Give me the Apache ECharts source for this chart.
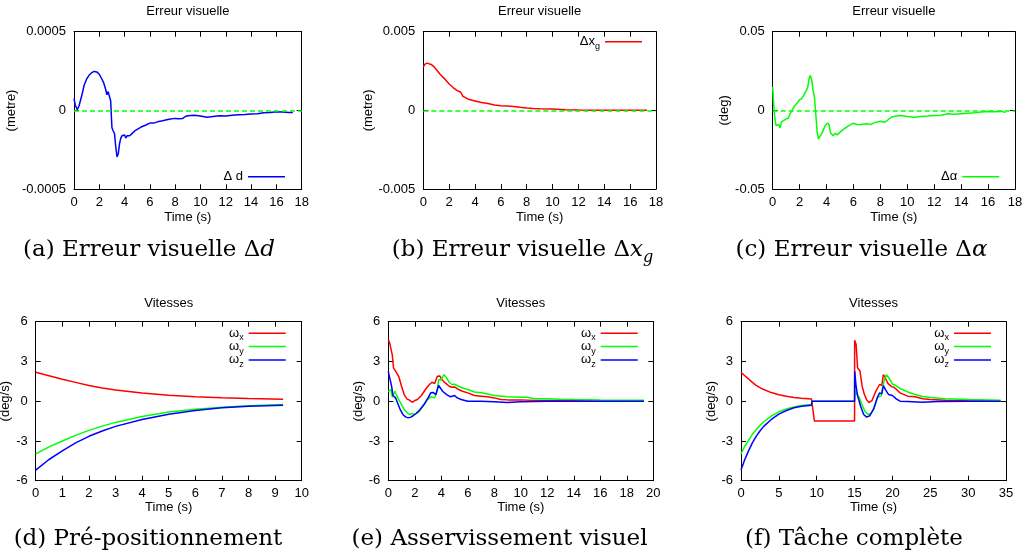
<!DOCTYPE html>
<html><head><meta charset="utf-8">
<script src="https://cdn.jsdelivr.net/npm/echarts@6/dist/echarts.min.js"></script>
<style>html,body{margin:0;padding:0;background:#fff}#c{width:1025px;height:560px}</style>
</head><body><div id="c"></div>
<script>
// ---------- data (time s, value) ----------
const deltaD = [[0,0.75e-4],[0.1,0.35e-4],[0.26,0.05e-4],[0.4,0.3e-4],[0.6,0.9e-4],[0.8,1.6e-4],[1.0,2.0e-4],[1.2,2.25e-4],[1.4,2.4e-4],[1.6,2.48e-4],[1.8,2.45e-4],[2.0,2.3e-4],[2.2,2.0e-4],[2.35,1.75e-4],[2.5,1.35e-4],[2.6,1.0e-4],[2.7,1.2e-4],[2.8,1.15e-4],[2.9,0.6e-4],[2.95,-0.3e-4],[3.0,-1.1e-4],[3.1,-1.3e-4],[3.2,-1.45e-4],[3.3,-2.3e-4],[3.4,-2.95e-4],[3.5,-2.75e-4],[3.6,-2.1e-4],[3.7,-1.75e-4],[3.8,-1.6e-4],[3.9,-1.65e-4],[4.0,-1.55e-4],[4.1,-1.75e-4],[4.2,-1.6e-4],[4.4,-1.6e-4],[4.6,-1.45e-4],[4.8,-1.3e-4],[5.0,-1.2e-4],[5.3,-1.05e-4],[5.6,-0.95e-4],[6.0,-0.8e-4],[6.3,-0.8e-4],[6.6,-0.72e-4],[7.0,-0.65e-4],[7.5,-0.55e-4],[8.0,-0.5e-4],[8.3,-0.52e-4],[8.6,-0.5e-4],[8.8,-0.38e-4],[9.0,-0.33e-4],[9.5,-0.3e-4],[10.0,-0.35e-4],[10.5,-0.43e-4],[11.0,-0.38e-4],[11.5,-0.33e-4],[12.0,-0.35e-4],[12.5,-0.3e-4],[13.0,-0.27e-4],[13.5,-0.25e-4],[14.0,-0.22e-4],[14.5,-0.2e-4],[15.0,-0.15e-4],[15.5,-0.12e-4],[16.0,-0.08e-4],[16.5,-0.1e-4],[17.0,-0.12e-4],[17.3,-0.13e-4]];

const deltaXg = [[0,2.75e-3],[0.1,2.92e-3],[0.3,3.0e-3],[0.6,2.92e-3],[0.8,2.8e-3],[1.0,2.6e-3],[1.3,2.3e-3],[1.6,2.05e-3],[2.0,1.68e-3],[2.3,1.45e-3],[2.6,1.27e-3],[2.9,1.15e-3],[2.95,1.1e-3],[3.05,0.9e-3],[3.2,0.78e-3],[3.5,0.7e-3],[4.0,0.6e-3],[4.5,0.5e-3],[5.0,0.44e-3],[5.5,0.34e-3],[6.0,0.3e-3],[6.5,0.27e-3],[7.0,0.24e-3],[7.5,0.19e-3],[8.0,0.15e-3],[8.5,0.12e-3],[9.0,0.1e-3],[10,0.08e-3],[11,0.04e-3],[12,0.02e-3],[13,0.01e-3],[14,0.01e-3],[15,0.005e-3],[16,0.005e-3],[17.3,0]];

const deltaAlpha = [[0,1.5e-2],[0.05,0.64e-2],[0.15,-0.43e-2],[0.25,-0.96e-2],[0.35,-1.0e-2],[0.45,-0.89e-2],[0.55,-1.1e-2],[0.65,-0.74e-2],[0.8,-0.64e-2],[1.0,-0.53e-2],[1.15,-0.5e-2],[1.3,-0.21e-2],[1.6,0.26e-2],[1.8,0.45e-2],[2.0,0.68e-2],[2.15,0.75e-2],[2.3,0.96e-2],[2.5,1.28e-2],[2.6,1.45e-2],[2.7,2.02e-2],[2.8,2.23e-2],[2.9,1.9e-2],[3.0,1.28e-2],[3.1,0.85e-2],[3.2,-0.21e-2],[3.3,-1.38e-2],[3.4,-1.81e-2],[3.5,-1.7e-2],[3.7,-1.38e-2],[3.9,-0.96e-2],[4.1,-0.8e-2],[4.2,-0.95e-2],[4.3,-1.45e-2],[4.5,-1.6e-2],[4.65,-1.45e-2],[4.8,-1.55e-2],[5.0,-1.38e-2],[5.3,-1.17e-2],[5.6,-1.0e-2],[6.0,-0.81e-2],[6.3,-0.9e-2],[6.5,-0.89e-2],[7.0,-0.85e-2],[7.3,-0.9e-2],[7.5,-0.79e-2],[8.0,-0.68e-2],[8.3,-0.75e-2],[8.5,-0.64e-2],[8.8,-0.43e-2],[9.0,-0.38e-2],[9.5,-0.32e-2],[10.0,-0.38e-2],[10.5,-0.43e-2],[11.0,-0.38e-2],[11.5,-0.36e-2],[12.0,-0.32e-2],[12.5,-0.3e-2],[13.0,-0.21e-2],[13.5,-0.24e-2],[14.0,-0.21e-2],[14.5,-0.18e-2],[15.0,-0.15e-2],[15.5,-0.1e-2],[16.0,-0.06e-2],[16.5,-0.08e-2],[17.0,-0.06e-2],[17.3,-0.13e-2]];

const wxPre = [[0,2.19],[0.5,1.92],[1,1.66],[1.5,1.42],[2,1.18],[2.5,1.0],[3,0.84],[4,0.61],[5,0.45],[6,0.34],[7,0.26],[8,0.2],[9.3,0.15]];
const wyPre = [[0,-3.97],[0.5,-3.45],[1,-3.0],[1.5,-2.58],[2,-2.2],[2.5,-1.88],[3,-1.6],[4,-1.15],[5,-0.82],[6,-0.6],[7,-0.45],[8,-0.34],[9.3,-0.25]];
const wzPre = [[0,-5.2],[0.5,-4.4],[1,-3.75],[1.5,-3.15],[2,-2.65],[2.5,-2.25],[3,-1.9],[4,-1.38],[5,-0.98],[6,-0.7],[7,-0.5],[8,-0.38],[9.3,-0.3]];

const wxServo = [[0,4.65],[0.1,4.4],[0.2,4.45],[0.3,3.5],[0.4,2.5],[0.5,2.45],[0.6,2.2],[0.8,1.83],[1.0,1.13],[1.2,0.5],[1.4,0.18],[1.6,0.08],[1.8,-0.08],[2.0,0.05],[2.2,0.13],[2.5,0.43],[2.8,0.88],[3.1,1.26],[3.3,1.43],[3.5,1.33],[3.6,1.3],[3.7,1.88],[3.8,2.0],[3.9,1.9],[4.0,1.68],[4.3,1.38],[4.6,1.13],[4.8,1.05],[5.0,1.08],[5.3,0.88],[5.6,0.75],[6.0,0.63],[6.5,0.43],[7.0,0.38],[7.5,0.33],[8.0,0.25],[8.5,0.13],[9.0,0.1],[10.0,0.1],[11.0,0.05],[12.0,0.05],[14.0,0.03],[16.0,0.0],[18.0,0.0],[19.3,0.0]];
const wyServo = [[0,0.75],[0.1,0.75],[0.2,0.88],[0.3,0.3],[0.4,0.4],[0.5,0.75],[0.6,0.5],[0.8,0.1],[1.0,-0.25],[1.2,-0.63],[1.4,-0.83],[1.6,-1.0],[1.8,-0.93],[2.0,-1.0],[2.3,-0.83],[2.6,-0.38],[2.9,0.08],[3.2,0.33],[3.5,0.25],[3.7,0.88],[3.8,1.63],[4.0,1.6],[4.1,1.83],[4.2,2.0],[4.4,1.76],[4.6,1.43],[4.8,1.26],[5.0,1.28],[5.3,1.13],[5.6,1.0],[6.0,0.88],[6.5,0.7],[7.0,0.63],[7.5,0.55],[8.0,0.43],[9.0,0.33],[10.0,0.3],[10.5,0.3],[11.0,0.18],[12.0,0.18],[13.0,0.15],[14.0,0.13],[16.0,0.1],[19.3,0.08]];
const wzServo = [[0,2.26],[0.05,2.0],[0.15,2.0],[0.25,1.13],[0.35,0.43],[0.45,0.5],[0.55,0.25],[0.7,-0.13],[0.9,-0.63],[1.1,-1.0],[1.3,-1.18],[1.5,-1.26],[1.7,-1.2],[1.9,-1.08],[2.1,-0.93],[2.4,-0.63],[2.7,-0.25],[3.0,0.25],[3.2,0.63],[3.4,0.65],[3.6,0.5],[3.7,0.88],[3.8,1.2],[3.9,1.08],[4.1,0.75],[4.4,0.5],[4.7,0.33],[5.0,0.43],[5.2,0.25],[5.5,0.13],[6.0,0.0],[7.0,0.0],[8.0,-0.05],[9.0,-0.1],[10.0,-0.05],[11.0,-0.03],[12.0,0.0],[14.0,0.0],[16.0,0.0],[19.3,0.0]];

const wxTask = [[0,2.19],[0.5,1.92],[1,1.68],[1.5,1.42],[2,1.2],[2.5,1.02],[3,0.88],[4,0.65],[5,0.48],[6,0.37],[7,0.28],[8,0.22],[9.3,0.17],[9.7,-1.5],[15.0,-1.5],[15.01,4.6],[15.2,4.3],[15.4,2.5],[15.7,2.3],[16.0,1.13],[16.3,0.5],[16.6,0.1],[16.9,-0.1],[17.3,0.05],[17.8,0.75],[18.3,1.26],[18.6,1.2],[18.8,2.0],[19.0,1.83],[19.4,1.35],[19.9,1.1],[20.2,1.05],[20.6,0.85],[21.0,0.63],[22.0,0.38],[23.0,0.33],[24.0,0.18],[25.0,0.13],[27.0,0.08],[30.0,0.03],[34.3,0.0]];
const wyTask = [[0,-3.97],[0.5,-3.4],[1,-2.95],[1.5,-2.5],[2,-2.15],[2.5,-1.82],[3,-1.55],[4,-1.12],[5,-0.8],[6,-0.58],[7,-0.43],[8,-0.33],[9.3,-0.25],[9.4,0.0],[15.0,0.0],[15.05,0.75],[15.3,0.88],[15.6,0.3],[16.0,-0.3],[16.4,-0.8],[16.8,-1.0],[17.2,-0.9],[17.6,-0.5],[18.0,0.3],[18.5,0.4],[18.8,1.3],[19.0,1.76],[19.2,2.0],[19.6,1.7],[20.0,1.3],[20.4,1.2],[21.0,0.96],[22.0,0.7],[23.0,0.5],[24.0,0.35],[25.0,0.28],[27.0,0.18],[30.0,0.13],[34.3,0.08]];
const wzTask = [[0,-5.2],[0.5,-4.4],[1,-3.75],[1.5,-3.15],[2,-2.65],[2.5,-2.25],[3,-1.9],[4,-1.38],[5,-0.98],[6,-0.7],[7,-0.5],[8,-0.38],[9.3,-0.3],[9.4,0.0],[15.0,0.0],[15.02,2.26],[15.2,1.13],[15.4,0.4],[15.8,-0.38],[16.2,-1.0],[16.6,-1.2],[17.0,-1.1],[17.5,-0.6],[18.0,0.25],[18.3,0.63],[18.6,0.55],[18.8,1.18],[19.1,0.85],[19.5,0.5],[20.0,0.43],[20.5,0.18],[21.0,0.0],[22.0,-0.02],[24.0,-0.08],[26.0,-0.03],[30.0,0.0],[34.3,0.0]];

const panelTitles = ['Erreur visuelle','Erreur visuelle','Erreur visuelle','Vitesses','Vitesses','Vitesses'];
const yNames = ['(metre)','(metre)','(deg)','(deg/s)','(deg/s)','(deg/s)'];
const xName = 'Time (s)';
const xMaxes = [18,18,18,10,20,35];
const xSteps = [2,2,2,1,2,5];
const yLimits = [0.0005,0.005,0.05,6,6,6];
const ySteps = [0.0005,0.005,0.05,3,3,3];
const captions = [
  '{r|(a) Erreur visuelle Δ}{i|d}',
  '{r|(b) Erreur visuelle Δ}{i|x}{si|g}',
  '{r|(c) Erreur visuelle Δ}{i|α}',
  '{r|(d) Pré-positionnement}',
  '{r|(e) Asservissement visuel}',
  '{r|(f) Tâche complète}'
];

// ---------- layout ----------
const F = 'Liberation Sans';
const grids = [
  {left:74, top:31.7, width:227.7, height:157.6},
  {left:423.3, top:31.7, width:232.7, height:157.3},
  {left:772.7, top:31.7, width:242.3, height:157.5},
  {left:35.7, top:321.7, width:266, height:159},
  {left:388.3, top:321.7, width:265, height:159},
  {left:741, top:321.7, width:265, height:159}
];
const yNameGaps = [52, 45, 38, 14, 15, 14.5];
const xNameGaps = [21.5, 21.5, 21.5, 20, 20, 20];
const captionPos = [[149,250],[522.5,250],[861.5,250],[148,539],[499.5,539],[854,539]];

const xAxis = [], yAxis = [];
grids.forEach((g, i) => {
  const tick = {show:true, inside:true, length:5, lineStyle:{color:'#000', width:1}};
  const line = {show:true, onZero:false, lineStyle:{color:'#000', width:1}};
  xAxis.push({type:'value', gridIndex:i, position:'bottom', min:0, max:xMaxes[i], interval:xSteps[i],
    axisLine:line, axisTick:tick, splitLine:{show:false},
    axisLabel:{color:'#000', fontSize:13, fontFamily:F, margin:6.5},
    name:xName, nameLocation:'middle', nameGap:xNameGaps[i],
    nameTextStyle:{color:'#000', fontSize:13, fontFamily:F}});
  xAxis.push({type:'value', gridIndex:i, position:'top', min:0, max:xMaxes[i], interval:xSteps[i],
    axisLine:line, axisTick:tick, splitLine:{show:false}, axisLabel:{show:false}});
  yAxis.push({type:'value', gridIndex:i, position:'left', min:-yLimits[i], max:yLimits[i], interval:ySteps[i],
    axisLine:line, axisTick:tick, splitLine:{show:false},
    axisLabel:{color:'#000', fontSize:13, fontFamily:F, margin:8},
    name:yNames[i], nameLocation:'middle', nameGap:yNameGaps[i],
    nameTextStyle:{color:'#000', fontSize:13, fontFamily:F}});
  yAxis.push({type:'value', gridIndex:i, position:'right', min:-yLimits[i], max:yLimits[i], interval:ySteps[i],
    axisLine:line, axisTick:tick, splitLine:{show:false}, axisLabel:{show:false}});
});

const RED = '#ff0000', GREEN = '#00ff00', BLUE = '#0000ff';
function ser(name, gi, data, color, zero) {
  const s = {name, type:'line', xAxisIndex:2*gi, yAxisIndex:2*gi, data, color,
    showSymbol:false, symbol:'none', lineStyle:{color, width:1.5}, animation:false, z:2};
  if (zero) s.markLine = {silent:true, symbol:'none', animation:false,
    label:{show:false}, lineStyle:{color:GREEN, type:[5,3], width:1.5}, data:[{yAxis:0}]};
  return s;
}
const series = [
  ser('dd', 0, deltaD, BLUE, true),
  ser('xg', 1, deltaXg, RED, true),
  ser('al', 2, deltaAlpha, GREEN, true),
  ser('wx_d', 3, wxPre, RED), ser('wy_d', 3, wyPre, GREEN), ser('wz_d', 3, wzPre, BLUE),
  ser('wx_e', 4, wxServo, RED), ser('wy_e', 4, wyServo, GREEN), ser('wz_e', 4, wzServo, BLUE),
  ser('wx_f', 5, wxTask, RED), ser('wy_f', 5, wyTask, GREEN), ser('wz_f', 5, wzTask, BLUE)
];

const legendLabels = {
  dd:'Δ d', xg:'{m|Δx}{s|g}', al:'Δα',
  wx_d:'{m|ω}{s|x}', wy_d:'{m|ω}{s|y}', wz_d:'{m|ω}{s|z}',
  wx_e:'{m|ω}{s|x}', wy_e:'{m|ω}{s|y}', wz_e:'{m|ω}{s|z}',
  wx_f:'{m|ω}{s|x}', wy_f:'{m|ω}{s|y}', wz_f:'{m|ω}{s|z}'
};
function leg(data, right, top) {
  return {data, right, top, orient:'vertical', align:'right', icon:'rect',
    itemWidth:37, itemHeight:1.5, itemGap:-4.7, padding:0, selectedMode:false,
    formatter:n => legendLabels[n],
    textStyle:{color:'#000', fontSize:13, fontFamily:F, lineHeight:18,
      rich:{m:{fontSize:13, fontFamily:F, color:'#000', lineHeight:18},
            s:{fontSize:9, fontFamily:F, color:'#000', verticalAlign:'bottom'}}}};
}
const legend = [
  leg(['dd'], 740, 167.7),
  leg(['xg'], 383, 32.7),
  leg(['al'], 25.7, 167.7),
  leg(['wx_d','wy_d','wz_d'], 739.3, 324.3),
  leg(['wx_e','wy_e','wz_e'], 387.3, 324.3),
  leg(['wx_f','wy_f','wz_f'], 34, 324.3)
];

const graphic = [];
grids.forEach((g, i) => {
  graphic.push({type:'text', x:g.left + g.width/2, y:i < 3 ? 11 : 303.3,
    style:{text:panelTitles[i], fill:'#000', fontSize:13, fontFamily:F,
      align:'center', verticalAlign:'middle', textAlign:'center', textVerticalAlign:'middle'}});
  graphic.push({type:'text', x:captionPos[i][0], y:captionPos[i][1],
    style:{text:captions[i], fill:'#000', align:'center', verticalAlign:'middle',
      textAlign:'center', textVerticalAlign:'middle',
      rich:{r:{fontFamily:'DejaVu Serif', fontSize:23, lineHeight:31, fill:'#000'},
            i:{fontFamily:'DejaVu Serif', fontStyle:'italic', fontSize:23, lineHeight:31, fill:'#000'},
            si:{fontFamily:'DejaVu Serif', fontStyle:'italic', fontSize:16, fill:'#000', verticalAlign:'bottom'}}}});
});

const chart = echarts.init(document.getElementById('c'), null, {renderer:'canvas'});
chart.setOption({
  backgroundColor:'#fff', animation:false,
  grid:grids.map(g => Object.assign({containLabel:false, outerBoundsMode:'none'}, g)),
  xAxis, yAxis, series, legend, graphic
});
</script></body></html>
